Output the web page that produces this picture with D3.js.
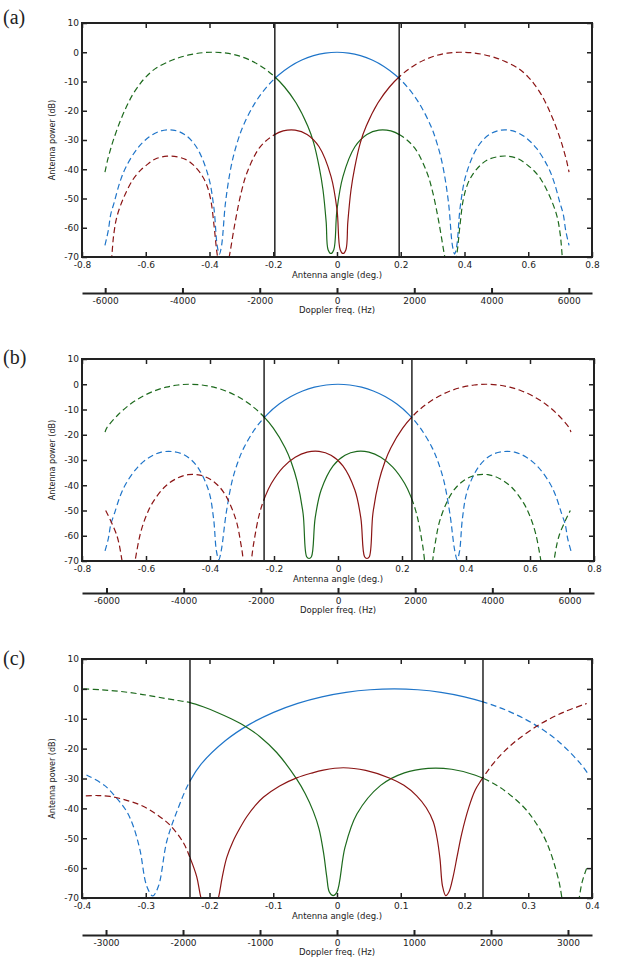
<!DOCTYPE html>
<html>
<head>
<meta charset="utf-8">
<script src="https://cdn.jsdelivr.net/npm/d3@7"></script>
<style>
  body { margin: 0; background: #fff; }
  text { font-family: "DejaVu Sans", sans-serif; fill: #222; }
</style>
</head>
<body>
<svg id="chart" width="623" height="973"></svg>
<script>
// ---- data: [antenna angle (deg), power (dB)] ----
const blueA = [[-0.728,-66],[-0.7176,-61],[-0.71,-55.5],[-0.6992,-51.4],[-0.6808,-44.3],[-0.6624,-39.3],[-0.6256,-32.8],[-0.5888,-28.9],[-0.552,-26.9],[-0.5152,-26.6],[-0.4784,-28.1],[-0.4416,-32.3],[-0.4048,-41.9],[-0.3864,-53],[-0.376,-66],[-0.369,-69],[-0.362,-66],[-0.3496,-51.2],[-0.3312,-38.5],[-0.3128,-30.8],[-0.2944,-25.2],[-0.2576,-17.4],[-0.2208,-11.9],[-0.184,-7.85],[-0.1472,-4.84],[-0.1104,-2.65],[-0.0736,-1.16],[-0.0368,-0.29],[0,0],
  [0.0368,-0.29],[0.0736,-1.16],[0.1104,-2.65],[0.1472,-4.84],[0.184,-7.85],[0.2208,-11.9],[0.2576,-17.4],[0.2944,-25.2],[0.3128,-30.8],[0.3312,-38.5],[0.3496,-51.2],[0.362,-66],[0.369,-69],[0.376,-66],[0.3864,-53],[0.4048,-41.9],[0.4416,-32.3],[0.4784,-28.1],[0.5152,-26.6],[0.552,-26.9],[0.5888,-28.9],[0.6256,-32.8],[0.6624,-39.3],[0.6808,-44.3],[0.6992,-51.4],[0.71,-55.5],[0.7176,-61],[0.728,-66]];
const greenA = [[-0.728,-41],[-0.72,-37],[-0.71,-33],[-0.7,-29.5],[-0.68,-23.5],[-0.66,-18.5],[-0.64,-14.3],[-0.618,-10.8],[-0.6,-8.5],[-0.57,-5.6],[-0.524,-3],[-0.5,-2],[-0.46,-0.8],[-0.42,-0.15],[-0.383,0],
  [-0.3466,-0.29],[-0.3102,-1.16],[-0.2738,-2.65],[-0.2374,-4.84],[-0.201,-7.85],[-0.1646,-11.88],[-0.1282,-17.37],[-0.0918,-25.24],[-0.0736,-30.8],[-0.0554,-39.5],[-0.044,-47],[-0.034,-58],[-0.028,-67.5],[-0.019,-68.8],[-0.01,-67.5],
  [-0.0002,-54],[0.0186,-42.5],[0.0562,-32.3],[0.0938,-28.1],[0.1314,-26.6],[0.169,-26.9],[0.2066,-28.9],[0.2442,-32.8],[0.2818,-41],[0.3006,-48],[0.3194,-58],[0.3382,-70],[0.357,-80],
  [0.376,-69],[0.385,-60],[0.396,-50.5],[0.41,-45],[0.428,-41.4],[0.45,-38.6],[0.47,-36.9],[0.5,-35.8],[0.533,-35.5],[0.57,-36.5],[0.6,-38.8],[0.616,-40.3],[0.64,-43.5],[0.668,-49.4],[0.69,-56],[0.7,-62],[0.706,-69],[0.712,-78]];
const redA = [[-0.712,-78],[-0.706,-69],[-0.7,-62],[-0.69,-56],[-0.668,-49.4],[-0.64,-43.5],[-0.616,-40.3],[-0.6,-38.8],[-0.57,-36.5],[-0.533,-35.5],[-0.5,-35.8],[-0.47,-36.9],[-0.45,-38.6],[-0.428,-41.4],[-0.41,-45],[-0.396,-50.5],[-0.385,-60],[-0.376,-69],
  [-0.357,-80],[-0.3382,-70],[-0.3194,-58],[-0.3006,-48],[-0.2818,-41],[-0.2442,-32.8],[-0.2066,-28.9],[-0.169,-26.9],[-0.1314,-26.6],[-0.0938,-28.1],[-0.0562,-32.3],[-0.0186,-42.5],[0.0002,-54],
  [0.01,-67.5],[0.019,-68.8],[0.028,-67.5],[0.034,-58],[0.044,-47],[0.0554,-39.5],[0.0736,-30.8],[0.0918,-25.24],[0.1282,-17.37],[0.1646,-11.88],[0.201,-7.85],[0.2374,-4.84],[0.2738,-2.65],[0.3102,-1.16],[0.3466,-0.29],[0.383,0],
  [0.42,-0.15],[0.46,-0.8],[0.5,-2],[0.524,-3],[0.57,-5.6],[0.6,-8.5],[0.618,-10.8],[0.64,-14.3],[0.66,-18.5],[0.68,-23.5],[0.7,-29.5],[0.71,-33],[0.72,-37],[0.728,-41]];

const blueB = [[-0.728,-66],[-0.7176,-61],[-0.71,-55.5],[-0.6992,-51.4],[-0.6808,-44.3],[-0.6624,-39.3],[-0.6256,-32.8],[-0.5888,-28.9],[-0.552,-26.9],[-0.5152,-26.7],[-0.4784,-28.1],[-0.4416,-32.3],[-0.4048,-41.9],[-0.389,-53],[-0.38,-66],[-0.3725,-69.5],[-0.365,-66],[-0.3496,-51.2],[-0.3312,-38.5],[-0.3128,-30.8],[-0.2944,-25.2],[-0.2576,-17.4],[-0.2208,-11.9],[-0.184,-7.85],[-0.1472,-4.84],[-0.1104,-2.65],[-0.0736,-1.16],[-0.0368,-0.29],[0,0],
  [0.0368,-0.29],[0.0736,-1.16],[0.1104,-2.65],[0.1472,-4.84],[0.184,-7.85],[0.2208,-11.9],[0.2576,-17.4],[0.2944,-25.2],[0.3128,-30.8],[0.3312,-38.5],[0.3496,-51.2],[0.365,-66],[0.3725,-69.5],[0.38,-66],[0.389,-53],[0.4048,-41.9],[0.4416,-32.3],[0.4784,-28.1],[0.5152,-26.7],[0.552,-26.9],[0.5888,-28.9],[0.6256,-32.8],[0.6624,-39.3],[0.6808,-44.3],[0.6992,-51.4],[0.71,-55.5],[0.7176,-61],[0.728,-66]];
const greenB = [[-0.728,-19],[-0.7229,-17.37],[-0.6857,-11.88],[-0.6485,-7.85],[-0.6113,-4.84],[-0.5741,-2.65],[-0.5369,-1.16],[-0.4997,-0.29],[-0.4625,0],
  [-0.4253,-0.29],[-0.3881,-1.16],[-0.3509,-2.65],[-0.3137,-4.84],[-0.2765,-7.85],[-0.2393,-11.88],[-0.2021,-17.37],[-0.1649,-25.24],[-0.1463,-30.8],[-0.1277,-38.5],[-0.1091,-51.2],[-0.098,-68.3],[-0.0905,-69],[-0.083,-68.3],
  [-0.0714,-53],[-0.0527,-41.9],[-0.0154,-32.3],[0.0219,-28.1],[0.0592,-26.6],[0.0965,-26.9],[0.1338,-28.9],[0.1711,-32.8],[0.2084,-39.3],[0.2271,-44.3],[0.2457,-51.4],[0.2644,-63.7],[0.283,-80],
  [0.3016,-64.6],[0.3201,-53.2],[0.3572,-42.8],[0.3943,-38],[0.4314,-36],[0.4685,-35.8],[0.5056,-37.4],[0.5427,-40.8],[0.5798,-47],[0.5984,-51.8],[0.6169,-58.8],[0.6355,-70.9],[0.654,-85],
  [0.6726,-71.5],[0.6911,-59.9],[0.726,-50]];
const redB = [[-0.726,-50],[-0.6911,-59.9],[-0.6726,-71.5],[-0.654,-85],[-0.6355,-70.9],[-0.6169,-58.8],[-0.5984,-51.8],[-0.5798,-47],[-0.5427,-40.8],[-0.5056,-37.4],[-0.4685,-35.8],[-0.4314,-36],[-0.3943,-38],[-0.3572,-42.8],[-0.3201,-53.2],[-0.3016,-64.6],
  [-0.283,-80],[-0.2644,-63.7],[-0.2457,-51.4],[-0.2271,-44.3],[-0.2084,-39.3],[-0.1711,-32.8],[-0.1338,-28.9],[-0.0965,-26.9],[-0.0592,-26.6],[-0.0219,-28.1],[0.0154,-32.3],[0.0527,-41.9],[0.0714,-53],
  [0.083,-68.3],[0.0905,-69],[0.098,-68.3],[0.1091,-51.2],[0.1277,-38.5],[0.1463,-30.8],[0.1649,-25.24],[0.2021,-17.37],[0.2393,-11.88],[0.2765,-7.85],[0.3137,-4.84],[0.3509,-2.65],[0.3881,-1.16],[0.4253,-0.29],[0.4625,0],
  [0.4997,-0.29],[0.5369,-1.16],[0.5741,-2.65],[0.6113,-4.84],[0.6485,-7.85],[0.6857,-11.88],[0.7229,-17.37],[0.728,-19]];

const blueC = [[-0.393,-28.8],[-0.3648,-32.3],[-0.346,-36.5],[-0.33,-41],[-0.3195,-46],[-0.309,-54],[-0.2985,-66],[-0.289,-69.3],[-0.28,-66],[-0.267,-51],[-0.2511,-41],[-0.2322,-31.5],[-0.2132,-25.2],[-0.1753,-17.37],[-0.1374,-11.88],[-0.0995,-7.85],[-0.0616,-4.84],[-0.0237,-2.65],[0.0142,-1.16],[0.0521,-0.29],[0.09,0],
  [0.1266,-0.29],[0.1632,-1.16],[0.1998,-2.65],[0.2364,-4.84],[0.273,-7.85],[0.3096,-11.88],[0.3462,-17.37],[0.3828,-25.24],[0.393,-28.2]];
const greenC = [[-0.398,0],[-0.37,-0.3],[-0.34,-0.85],[-0.31,-1.7],[-0.28,-2.8],[-0.25,-3.9],[-0.2306,-4.6],[-0.21,-6],[-0.1887,-7.8],[-0.166,-10],[-0.1443,-12.5],[-0.1208,-16],[-0.0946,-21.3],[-0.0632,-30.2],[-0.05,-35],[-0.0372,-41],[-0.028,-47],[-0.021,-55],[-0.016,-63],[-0.012,-68],[-0.006,-69.2],[0,-68],
  [0.0126,-53],[0.0312,-41.9],[0.0684,-32.3],[0.1056,-28.1],[0.1428,-26.6],[0.18,-26.9],[0.2172,-28.9],[0.2544,-32.8],[0.2916,-39.3],[0.3102,-44.3],[0.3288,-51.4],[0.3474,-63.7],[0.366,-85],
  [0.3846,-64.6],[0.3926,-59.5]];
const redC = [[-0.394,-35.8],[-0.375,-35.7],[-0.356,-36],[-0.33,-37.3],[-0.305,-39.2],[-0.283,-42],[-0.262,-45.6],[-0.241,-51.5],[-0.2306,-56.5],[-0.22,-62.9],[-0.2138,-69.6],[-0.2,-80],
  [-0.186,-70],[-0.18,-63],[-0.173,-56.5],[-0.163,-51],[-0.152,-46.5],[-0.1416,-42.8],[-0.128,-39],[-0.1156,-36.3],[-0.09,-32.5],[-0.0632,-29.8],[-0.04,-28.2],[-0.0215,-27.2],[0.0099,-26.4],[0.045,-27.3],[0.0831,-29.9],[0.105,-32.3],[0.125,-35.8],[0.14,-39.8],[0.151,-44.5],[0.157,-50],[0.1616,-57],[0.1655,-66],[0.1706,-69.2],[0.1755,-68],
  [0.182,-63],[0.1885,-56],[0.1956,-48.5],[0.207,-39.5],[0.2165,-34],[0.2255,-30.8],[0.244,-25.3],[0.261,-21.2],[0.281,-17.4],[0.318,-11.9],[0.355,-7.85],[0.3917,-4.9]];

// processed band edges (vertical lines), deg
const edgesA = [-0.195, 0.195];
const edgesB = [-0.231, 0.231];
const edgesC = [-0.2306, 0.229];

const angleTicksAB = [-0.8, -0.6, -0.4, -0.2, 0, 0.2, 0.4, 0.6, 0.8];
const angleTicksC = [-0.4, -0.3, -0.2, -0.1, 0, 0.1, 0.2, 0.3, 0.4];
const powerTicks = [10, 0, -10, -20, -30, -40, -50, -60, -70];
const dopplerTicksAB = [-6000, -4000, -2000, 0, 2000, 4000, 6000];
const dopplerTicksC = [-3000, -2000, -1000, 0, 1000, 2000, 3000];

const colors = ["#1f75c9", "#1d6a1d", "#8b1515"];

const panels = [
  { name: "(a)", l: 82, r: 592, t: 23, b: 257, dopY: 293, labY: 24,
    xDom: [-0.8, 0.8], dDom: [-6600, 6600], xTicks: angleTicksAB, dTicks: dopplerTicksAB,
    edges: edgesA, series: [blueA, greenA, redA] },
  { name: "(b)", l: 82, r: 594, t: 359, b: 561, dopY: 593, labY: 364,
    xDom: [-0.8, 0.8], dDom: [-6635, 6635], xTicks: angleTicksAB, dTicks: dopplerTicksAB,
    edges: edgesB, series: [blueB, greenB, redB] },
  { name: "(c)", l: 82, r: 592, t: 659, b: 898, dopY: 935, labY: 665,
    xDom: [-0.4, 0.4], dDom: [-3312, 3312], xTicks: angleTicksC, dTicks: dopplerTicksC,
    edges: edgesC, series: [blueC, greenC, redC] }
];

const svg = d3.select("#chart");
const defs = svg.append("defs");
const fmt = d => String(d);

panels.forEach((p, i) => {
  const x = d3.scaleLinear().domain(p.xDom).range([p.l, p.r]);
  const y = d3.scaleLinear().domain([-70, 10]).range([p.b, p.t]);
  const xd = d3.scaleLinear().domain(p.dDom).range([p.l, p.r]);
  const g = svg.append("g");

  // clip regions: inside the band (solid) and outside it (dashed)
  const xl = x(p.edges[0]), xr = x(p.edges[1]);
  defs.append("clipPath").attr("id", "in" + i)
    .append("rect").attr("x", xl).attr("y", p.t).attr("width", xr - xl).attr("height", p.b - p.t);
  const out = defs.append("clipPath").attr("id", "out" + i);
  out.append("rect").attr("x", p.l).attr("y", p.t).attr("width", xl - p.l).attr("height", p.b - p.t);
  out.append("rect").attr("x", xr).attr("y", p.t).attr("width", p.r - xr).attr("height", p.b - p.t);

  const line = d3.line().x(d => x(d[0])).y(d => y(d[1])).curve(d3.curveCatmullRom.alpha(0.5));

  p.series.forEach((s, k) => {
    g.append("path").datum(s).attr("d", line)
      .attr("clip-path", `url(#out${i})`)
      .attr("fill", "none").attr("stroke", colors[k]).attr("stroke-width", 1.2)
      .attr("stroke-dasharray", "6,3.5");
    g.append("path").datum(s).attr("d", line)
      .attr("clip-path", `url(#in${i})`)
      .attr("fill", "none").attr("stroke", colors[k]).attr("stroke-width", 1.2);
  });

  // band edges
  g.selectAll("line.edge").data(p.edges).enter().append("line")
    .attr("class", "edge")
    .attr("x1", d => x(d)).attr("x2", d => x(d))
    .attr("y1", p.t).attr("y2", p.b)
    .attr("stroke", "#000").attr("stroke-width", 1.3);

  // axes (ticks pointing inward)
  const styleAxis = sel => {
    sel.select(".domain").remove();
    sel.selectAll(".tick line").attr("stroke", "#222").attr("stroke-width", 1.5);
    sel.selectAll(".tick text").style("font-size", "9px").attr("fill", "#222");
  };
  g.append("g").attr("transform", `translate(0,${p.b})`)
    .call(d3.axisBottom(x).tickValues(p.xTicks).tickFormat(fmt).tickSize(-5).tickPadding(4.5))
    .call(styleAxis);
  g.append("g").attr("transform", `translate(0,${p.t})`)
    .call(d3.axisTop(x).tickValues(p.xTicks).tickFormat("").tickSize(-5))
    .call(styleAxis);
  g.append("g").attr("transform", `translate(${p.l},0)`)
    .call(d3.axisLeft(y).tickValues(powerTicks).tickFormat(fmt).tickSize(-5).tickPadding(3))
    .call(styleAxis);
  g.append("g").attr("transform", `translate(${p.r},0)`)
    .call(d3.axisRight(y).tickValues(powerTicks).tickFormat("").tickSize(-5))
    .call(styleAxis);

  g.append("rect").attr("x", p.l).attr("y", p.t)
    .attr("width", p.r - p.l).attr("height", p.b - p.t)
    .attr("fill", "none").attr("stroke", "#222").attr("stroke-width", 2);

  // doppler axis underneath
  const dg = g.append("g").attr("transform", `translate(0,${p.dopY})`)
    .call(d3.axisBottom(xd).tickValues(p.dTicks).tickFormat(fmt).tickSize(-5).tickSizeOuter(0).tickPadding(4.5));
  dg.select(".domain").attr("stroke", "#222").attr("stroke-width", 2);
  dg.selectAll(".tick line").attr("stroke", "#222").attr("stroke-width", 2);
  dg.selectAll(".tick text").style("font-size", "9px").attr("fill", "#222");

  // titles
  const cx = (p.l + p.r) / 2;
  g.append("text").attr("x", cx).attr("y", p.b + 21).attr("text-anchor", "middle")
    .style("font-size", "8.5px").text("Antenna angle (deg.)");
  g.append("text").attr("x", cx).attr("y", p.dopY + 20).attr("text-anchor", "middle")
    .style("font-size", "8.5px").text("Doppler freq. (Hz)");
  g.append("text")
    .attr("transform", `translate(55,${(p.t + p.b) / 2}) rotate(-90)`)
    .attr("text-anchor", "middle").style("font-size", "8px").text("Antenna power (dB)");
  g.append("text").attr("x", 3).attr("y", p.labY)
    .style("font-family", "'Liberation Serif', 'DejaVu Serif', serif")
    .style("font-size", "20px").attr("fill", "#25304a").text(p.name);
});
</script>
</body>
</html>
